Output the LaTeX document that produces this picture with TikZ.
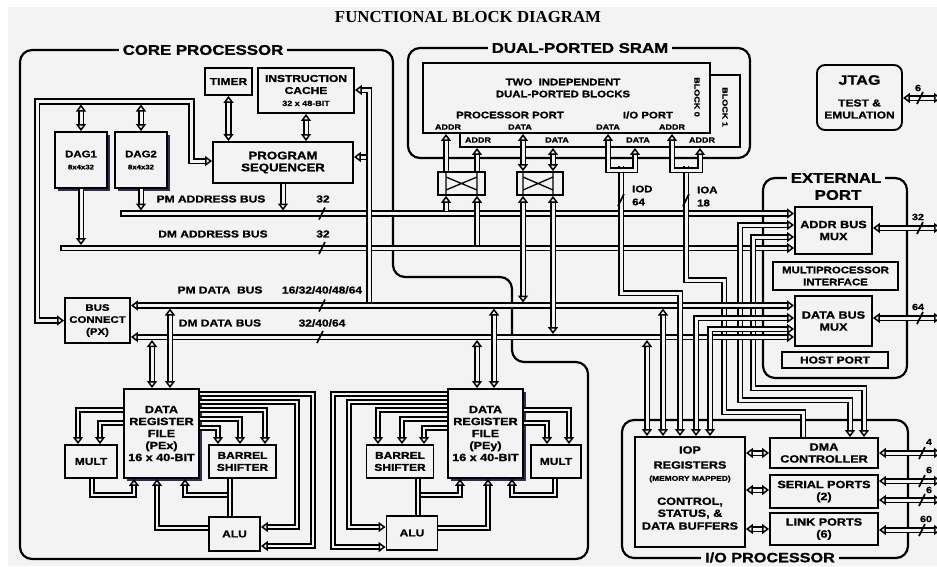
\documentclass[tikz,border=0pt]{standalone}
\usepackage{fontspec}
\usetikzlibrary{arrows.meta,shadows}
\newfontfamily\lab{Liberation Sans}[FakeStretch=1.2,BoldFeatures={FakeBold=1.2}]
\newfontfamily\ser{Liberation Serif}
\definecolor{bg}{RGB}{243,243,243}
\definecolor{shd}{RGB}{45,45,85}
\newcommand\F[2]{\lab\bfseries\fontsize{#1}{#2}\selectfont}
\newcommand\bsl[2]{\draw[sl] ({#1-3},{#2+6}) -- ({#1+3},{#2-6});}
\begin{document}
\begin{tikzpicture}[x=1pt,y=-1pt,
  >={Triangle[open,fill=bg,length=7pt,width=10pt,line width=1.5pt]},
  bx/.style={draw,line width=1.9pt,fill=bg,inner sep=1pt,align=center},
  outl/.style={draw,line width=2.2pt,rounded corners=12pt},
  bus/.style={line width=1.7pt,double=bg,double distance=3pt},
  pbus/.style={line width=1.4pt,double=bg,double distance=2.4pt},
  sl/.style={line width=1.6pt},
  lbl/.style={inner sep=0pt,align=center},
  ttl/.style={fill=bg,inner xsep=4pt,inner ysep=1pt},
  sh/.style={drop shadow={shadow xshift=3pt,shadow yshift=-3pt,fill=shd,opacity=1}},
]
\path[use as bounding box] (0,0) rectangle (937,566);
\fill[white] (0,0) rectangle (937,566);
\fill[bg] (8,7) rectangle (937,566);

% title
\node[lbl] (title) at (468,17) {\ser\bfseries\fontsize{16.8}{18}\selectfont FUNCTIONAL BLOCK DIAGRAM};

% outlines
\draw[outl] (200,50) -- (393,50) -- (393,277) -- (512,277) -- (512,362) -- (588,362) -- (588,559) -- (20,559) -- (20,50) -- cycle;
\draw[outl] (408,48) rectangle (750,158);
\draw[outl] (763,178) rectangle (907,378);
\draw[outl] (622,420) rectangle (908,558);
\node[ttl] (tcore) at (203,50) {\F{14}{16}CORE PROCESSOR};
\node[ttl] (tsram) at (580,48) {\F{14}{16}DUAL-PORTED SRAM};
\node[ttl] (text) at (836,178) {\F{14}{16}EXTERNAL};
\node[lbl] (tport) at (838,195) {\F{14}{16}PORT};

% core boxes
\node[bx,minimum width=47,minimum height=27] (timer) at (228.5,81.5) {\F{10}{11}TIMER};
\node[bx,minimum width=96,minimum height=45] (cache) at (306,90.5) {\F{10}{12}INSTRUCTION\\\F{10}{12}CACHE\\\F{7.5}{11}32 x 48-BIT};
\node[bx,minimum width=140,minimum height=41] (seq) at (283,162.5) {\F{11}{12}PROGRAM\\\F{11}{12}SEQUENCER};
\node[bx,sh,minimum width=52,minimum height=56] (dag1) at (81,160) {\F{9.5}{13}DAG1\\\F{6.5}{9}8x4x32};
\node[bx,sh,minimum width=52,minimum height=56] (dag2) at (141,160) {\F{9.5}{13}DAG2\\\F{6.5}{9}8x4x32};
\node[bx,minimum width=65,minimum height=45] (bc) at (97.5,320.5) {\F{9.5}{12.5}BUS\\\F{9.5}{12.5}CONNECT\\\F{9.5}{12.5}(PX)};
\node[bx,sh,minimum width=75,minimum height=89] (rfx) at (161.5,433.5) {\F{10.5}{12}DATA\\\F{10.5}{12}REGISTER\\\F{10.5}{12}FILE\\\F{10.5}{12}(PEx)\\\F{10.5}{12}16 x 40-BIT};
\node[bx,minimum width=52,minimum height=33] (multx) at (91,461.5) {\F{10}{11}MULT};
\node[bx,minimum width=67,minimum height=33] (bsx) at (242.5,461.5) {\F{10}{11.5}BARREL\\\F{10}{11.5}SHIFTER};
\node[bx,minimum width=51,minimum height=34] (alux) at (234.5,534) {\F{10}{11}ALU};
\node[bx,sh,minimum width=75,minimum height=89] (rfy) at (485.5,433.5) {\F{10.5}{12}DATA\\\F{10.5}{12}REGISTER\\\F{10.5}{12}FILE\\\F{10.5}{12}(PEy)\\\F{10.5}{12}16 x 40-BIT};
\node[bx,minimum width=50,minimum height=33] (multy) at (556,461.5) {\F{10}{11}MULT};
\node[bx,minimum width=67,minimum height=33] (bsy) at (400,461.5) {\F{10}{11.5}BARREL\\\F{10}{11.5}SHIFTER};
\node[bx,minimum width=51,minimum height=34] (aluy) at (412,533) {\F{10}{11}ALU};

% SRAM
\node[draw,line width=1.9pt,fill=bg,minimum width=280,minimum height=72] (blk1) at (600,111) {};
\node[draw,line width=1.9pt,fill=bg,minimum width=287,minimum height=70] (blk0) at (566.5,98) {};
\node[lbl] (s1) at (563,82) {\F{9.5}{11}TWO~~INDEPENDENT};
\node[lbl] (s2) at (563,94) {\F{9.5}{11}DUAL-PORTED BLOCKS};
\node[lbl] (s3) at (510,115) {\F{9.5}{11}PROCESSOR PORT};
\node[lbl] (s4) at (648,115) {\F{9.5}{11}I/O PORT};
\node[lbl] (p1) at (448,127) {\F{7.5}{9}ADDR};
\node[lbl] (p2) at (520,127) {\F{7.5}{9}DATA};
\node[lbl] (p3) at (608,127) {\F{7.5}{9}DATA};
\node[lbl] (p4) at (672,127) {\F{7.5}{9}ADDR};
\node[lbl] (q1) at (478,140) {\F{7.5}{9}ADDR};
\node[lbl] (q2) at (557,140) {\F{7.5}{9}DATA};
\node[lbl] (q3) at (638,140) {\F{7.5}{9}DATA};
\node[lbl] (q4) at (702,140) {\F{7.5}{9}ADDR};
\node[lbl,rotate=-90] (b0) at (697,97) {\F{7.5}{9}BLOCK 0};
\node[lbl,rotate=-90] (b1) at (725,107) {\F{7.5}{9}BLOCK 1};
\node[draw,line width=1.7pt,fill=bg,minimum width=47,minimum height=23] (swA) at (461.5,183.5) {};
\node[draw,line width=1.7pt,fill=bg,minimum width=46,minimum height=23] (swB) at (540,183.5) {};
\draw[line width=1.3pt] (446,172) -- (446,195) (477,172) -- (477,195) (446,177) -- (477,190) (446,190) -- (477,177);
\draw[line width=1.3pt] (523,172) -- (523,195) (553,172) -- (553,195) (523,177) -- (553,190) (523,190) -- (553,177);

% JTAG
\node[bx,rounded corners=8pt,minimum width=85,minimum height=65] (jtag) at (859.5,97.5) {};
\node[lbl] (j1) at (859.5,80) {\F{13.5}{15}JTAG};
\node[lbl] (j2) at (859.5,103) {\F{10}{11}TEST \&};
\node[lbl] (j3) at (859.5,115) {\F{10}{11}EMULATION};

% external port
\node[bx,minimum width=77,minimum height=47] (addrmux) at (833.5,230.5) {\F{10.5}{12}ADDR BUS\\\F{10.5}{12}MUX};
\node[bx,minimum width=125,minimum height=28] (mpi) at (835.5,276) {\F{9.5}{11}MULTIPROCESSOR\\\F{9.5}{11}INTERFACE};
\node[bx,minimum width=77,minimum height=50] (datamux) at (833.5,321) {\F{10.5}{12}DATA BUS\\\F{10.5}{12}MUX};
\node[bx,minimum width=106,minimum height=16] (host) at (835,360) {\F{10}{11}HOST PORT};

% I/O processor
\node[ttl] (tio) at (770,557.5) {\F{13.5}{15}I/O PROCESSOR};
\node[bx,minimum width=110,minimum height=110] (iop) at (690,492) {};
\node[lbl] (i1) at (690,450) {\F{10.5}{12}IOP};
\node[lbl] (i2) at (690,465) {\F{10.5}{12}REGISTERS};
\node[lbl] (i3) at (690,479) {\F{7}{8}(MEMORY MAPPED)};
\node[lbl] (i4) at (690,502) {\F{10.5}{12}CONTROL,};
\node[lbl] (i5) at (690,514) {\F{10.5}{12}STATUS, \&};
\node[lbl] (i6) at (690,526) {\F{10.5}{12}DATA BUFFERS};
\node[bx,minimum width=108,minimum height=30] (dma) at (824,453) {\F{10.5}{12}DMA\\\F{10.5}{12}CONTROLLER};
\node[bx,minimum width=108,minimum height=33] (serial) at (824,491.5) {\F{10.5}{12}SERIAL PORTS\\\F{10.5}{12}(2)};
\node[bx,minimum width=108,minimum height=32] (link) at (824,529) {\F{10.5}{12}LINK PORTS\\\F{10.5}{12}(6)};

% ---- core buses
\draw[bus,<->] (bc.west) -- (37,320.5) -- (37,101.5) -- (191.5,101.5) -- (191.5,161) -- (seq.west |- 0,161);
\draw[bus,<->] (dag1.north) -- (81,104.5);
\draw[bus,<->] (dag2.north) -- (141,104.5);
\draw[bus,<->] (timer.south) -- (timer.south |- seq.north);
\draw[bus,<->] (cache.south) -- (cache.south |- seq.north);
\draw[bus,->] (120,213.5) -- (addrmux.west |- 0,213.5);
\draw[bus,->] (60,248) -- (addrmux.west |- 0,248);
\draw[sl] (120.8,210.3) -- (120.8,216.7) (60.8,244.8) -- (60.8,251.2);
\draw[bus,->] (dag1.south) -- (81,245);
\draw[bus,->] (dag2.south) -- (141,210.5);
\draw[bus,->] (seq.south) -- (283,210.5);
\draw[bus,->] (369,157) -- (seq.east |- 0,157);
\draw[bus,->] (369,305.5) -- (369,90) -- (cache.east |- 0,90);
% addr mux / data mux side lines
\draw[bus,<->] (addrmux.west |- 0,225) -- (740,225) -- (740,400) -- (850,400) -- (dma.north -| 850,0);
\draw[bus,<->] (addrmux.west |- 0,237) -- (753,237) -- (753,388) -- (864,388) -- (dma.north -| 864,0);
\draw[bus] (686,166) -- (686,280) -- (724,280) -- (724,412) -- (803,412) -- (dma.north -| 803,0);
\draw[bus,<->] (bc.east |- 0,305.5) -- (datamux.west |- 0,305.5);
\draw[bus,<->] (bc.east |- 0,337) -- (datamux.west |- 0,337);
\draw[bus,<->] (datamux.west |- 0,318) -- (696,318) -- (iop.north -| 696,0);
\draw[bus,<->] (datamux.west |- 0,329) -- (710,329) -- (iop.north -| 710,0);
% PE to data buses
\draw[bus,<->] (rfx.north -| 152,0) -- (152,340);
\draw[bus,<->] (rfx.north -| 170,0) -- (170,308.5);
\draw[bus,<->] (rfy.north -| 477,0) -- (477,340);
\draw[bus,<->] (rfy.north -| 494,0) -- (494,308.5);
\draw[bus,<->] (iop.north -| 647,0) -- (647,340);
\draw[bus,<->] (iop.north -| 663,0) -- (663,308.5);
% SRAM ports
\draw[bus,->] (swA.north -| 446,0) -- (blk0.south -| 446,0);
\draw[bus,->] (swA.north -| 477,0) -- (blk1.south -| 477,0);
\draw[bus,->] (446,210.5) -- (swA.south -| 446,0);
\draw[bus,->] (477,245) -- (swA.south -| 477,0);
\draw[bus,<->] (swB.north -| 523,0) -- (blk0.south -| 523,0);
\draw[bus,<->] (swB.north -| 553,0) -- (blk1.south -| 553,0);
\draw[bus,<->] (swB.south -| 523,0) -- (523,302.5);
\draw[bus,<->] (swB.south -| 553,0) -- (553,334);
\draw[bus,->] (621,166) -- (621,293) -- (680,293) -- (iop.north -| 680,0);
\draw[bus,<->] (blk0.south -| 608,0) -- (608,170) -- (635,170) -- (blk1.south -| 635,0);
\draw[bus,<->] (blk0.south -| 672,0) -- (672,170) -- (700,170) -- (blk1.south -| 700,0);
% I/O links
\draw[bus,<->] (iop.east |- 0,453) -- (dma.west |- 0,453);
\draw[bus,<->] (iop.east |- 0,490) -- (serial.west |- 0,490);
\draw[bus,<->] (iop.east |- 0,529) -- (link.west |- 0,529);
% external
\draw[bus,<->] (jtag.east |- 0,98) -- (941,98);
\draw[bus,<->] (addrmux.east |- 0,228) -- (941,228);
\draw[bus,<->] (datamux.east |- 0,318) -- (941,318);
\draw[bus,<->] (dma.east |- 0,453) -- (941,453);
\draw[bus,<->] (serial.east |- 0,481) -- (941,481);
\draw[bus,<->] (serial.east |- 0,500) -- (941,500);
\draw[bus,<->] (link.east |- 0,530) -- (941,530);

% ---- PEx internal
\draw[pbus,->] (rfx.west |- 0,410) -- (78,410) -- (multx.north -| 78,0);
\draw[pbus,->] (rfx.west |- 0,423) -- (100,423) -- (multx.north -| 100,0);
\draw[pbus,->] (multx.south -| 92,0) -- (92,495) -- (134,495) -- (rfx.south -| 134,0);
\draw[pbus,->] (alux.west |- 0,528) -- (157,528) -- (rfx.south -| 157,0);
\draw[pbus,->] (230,495) -- (185,495) -- (rfx.south -| 185,0);
\draw[pbus] (bsx.south -| 230,0) -- (alux.north -| 230,0);
\draw[pbus,->] (rfx.east |- 0,394) -- (313,394) -- (313,546) -- (alux.east |- 0,546);
\draw[pbus,->] (rfx.east |- 0,402) -- (297,402) -- (297,527) -- (alux.east |- 0,527);
\draw[pbus,->] (rfx.east |- 0,410) -- (265,410) -- (bsx.north -| 265,0);
\draw[pbus,->] (rfx.east |- 0,419) -- (240,419) -- (bsx.north -| 240,0);
\draw[pbus,->] (rfx.east |- 0,428) -- (218,428) -- (bsx.north -| 218,0);
% ---- PEy internal
\draw[pbus,->] (rfy.west |- 0,394) -- (333,394) -- (333,547) -- (aluy.west |- 0,547);
\draw[pbus,->] (rfy.west |- 0,402) -- (349,402) -- (349,527) -- (aluy.west |- 0,527);
\draw[pbus,->] (rfy.west |- 0,410) -- (378,410) -- (bsy.north -| 378,0);
\draw[pbus,->] (rfy.west |- 0,419) -- (402,419) -- (bsy.north -| 402,0);
\draw[pbus,->] (rfy.west |- 0,428) -- (424,428) -- (bsy.north -| 424,0);
\draw[pbus,->] (rfy.east |- 0,410) -- (569,410) -- (multy.north -| 569,0);
\draw[pbus,->] (rfy.east |- 0,423) -- (547,423) -- (multy.north -| 547,0);
\draw[pbus,->] (multy.south -| 555,0) -- (555,495) -- (512,495) -- (rfy.south -| 512,0);
\draw[pbus,->] (aluy.east |- 0,528) -- (488,528) -- (rfy.south -| 488,0);
\draw[pbus,->] (418,495) -- (460,495) -- (rfy.south -| 460,0);
\draw[pbus] (bsy.south -| 418,0) -- (aluy.north -| 418,0);

% ---- bus labels and width marks
\node[lbl] (l1) at (211,199) {\F{10}{11}PM ADDRESS BUS};
\node[lbl] (l2) at (323,199) {\F{10}{11}32};
\node[lbl] (l3) at (213,234) {\F{10}{11}DM ADDRESS BUS};
\node[lbl] (l4) at (323,234) {\F{10}{11}32};
\node[lbl] (l5) at (220,290) {\F{10}{11}PM DATA~~BUS};
\node[lbl] (l6) at (322,290) {\F{10}{11}16/32/40/48/64};
\node[lbl] (l7) at (220,323) {\F{10}{11}DM DATA BUS};
\node[lbl] (l8) at (322,323) {\F{10}{11}32/40/64};
\node[lbl,anchor=west] (l9) at (632,189) {\F{9.5}{11}IOD};
\node[lbl,anchor=west] (l10) at (632,202) {\F{9.5}{11}64};
\node[lbl,anchor=west] (l11) at (697,190) {\F{9.5}{11}IOA};
\node[lbl,anchor=west] (l12) at (697,203) {\F{9.5}{11}18};
\node[lbl] (r1) at (918,88) {\F{9}{10}6};
\node[lbl] (r2) at (918,217) {\F{9}{10}32};
\node[lbl] (r3) at (918,307) {\F{9}{10}64};
\node[lbl] (r4) at (929,442) {\F{9}{10}4};
\node[lbl] (r5) at (929,470) {\F{9}{10}6};
\node[lbl] (r6) at (929,490) {\F{9}{10}6};
\node[lbl] (r7) at (926,519) {\F{9}{10}60};
\bsl{322}{213.5}
\bsl{322}{248}
\bsl{322}{305.5}
\bsl{320}{337}
\bsl{621}{200}
\bsl{686}{200}
\bsl{920}{98}
\bsl{920}{228}
\bsl{920}{318}
\bsl{922}{453}
\bsl{922}{481}
\bsl{922}{500}
\bsl{922}{530}
\end{tikzpicture}
\end{document}
